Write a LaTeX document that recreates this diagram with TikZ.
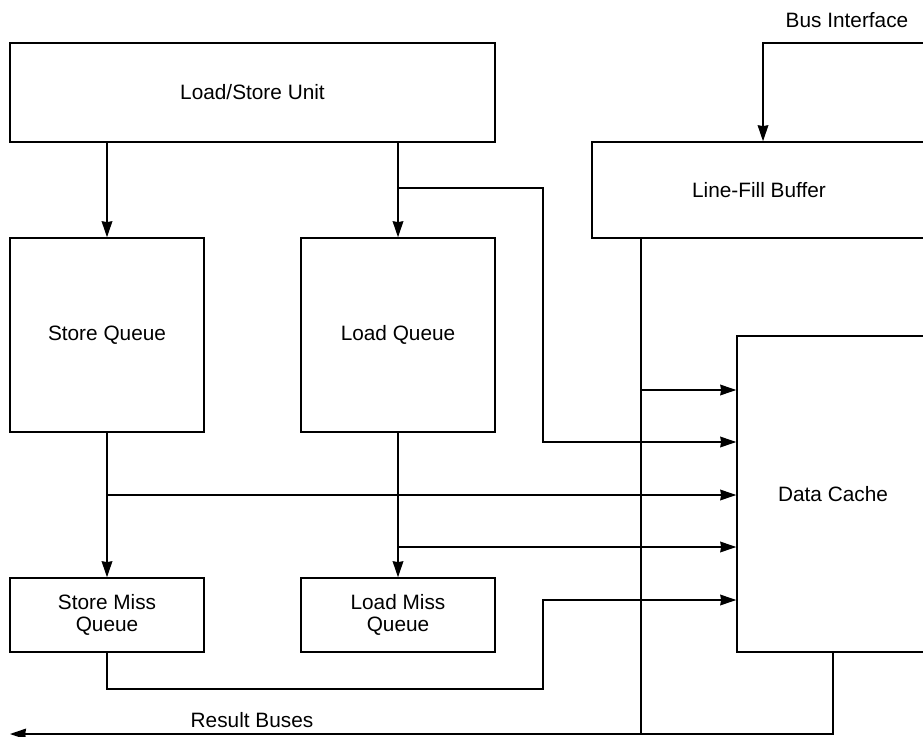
\documentclass[tikz,border=0pt]{standalone}
\usepackage{fontspec}
\setmainfont{Liberation Sans}
\usetikzlibrary{arrows.meta}
\begin{document}
\begin{tikzpicture}[x=0.75pt,y=-0.75pt,
  box/.style={draw,line width=1.1pt,inner sep=0pt,align=center,font=\fontsize{15.6pt}{16.5pt}\selectfont},
  conn/.style={line width=1.1pt},
  arr/.style={line width=1.1pt,-{Stealth[length=12pt,width=8pt,inset=0.6pt]}},
  lbl/.style={inner sep=0pt,font=\fontsize{15.6pt}{16.5pt}\selectfont}]
\useasboundingbox (0,0) rectangle (923,737);
\clip (0,0) rectangle (923,737);
% boxes
\node[box,minimum width=363.75pt,minimum height=74.25pt] (LSU) at (252.5,92.5) {Load/Store Unit};
\node[box,minimum width=250.5pt,minimum height=72pt] (LFB) at (759,190) {Line-Fill Buffer};
\node[box,minimum width=145.5pt,minimum height=145.5pt] (SQ) at (107,335) {Store Queue};
\node[box,minimum width=145.5pt,minimum height=145.5pt] (LQ) at (398,335) {Load Queue};
\node[box,minimum width=144pt,minimum height=237pt] (DC) at (833,494) {Data Cache};
\node[box,minimum width=145.5pt,minimum height=55.5pt] (SMQ) at (107,615) {Store Miss\\Queue};
\node[box,minimum width=145.5pt,minimum height=55.5pt] (LMQ) at (398,615) {Load Miss\\Queue};
% labels
\node[lbl] (busl) at (847,20) {Bus Interface};
\node[lbl] (resl) at (252,720) {Result Buses};
% helper coordinates
\coordinate (y1) at (0,390);
\coordinate (y2) at (0,442);
\coordinate (y3) at (0,495);
\coordinate (y4) at (0,547);
\coordinate (y5) at (0,600);
\coordinate (xa) at (543,0);
\coordinate (xb) at (641,0);
\coordinate (bus) at (925,43);
\coordinate (busx) at (763,43);
\coordinate (b1) at (398,188);
\coordinate (rbl) at (641,734);
\coordinate (rbend) at (10,734);
\coordinate (smqy) at (0,689);
% connectors
\draw[arr] (bus) -- (busx) -- (LFB.north -| busx);
\draw[arr] (SQ.north |- LSU.south) -- (SQ.north);
\draw[arr] (LQ.north |- LSU.south) -- (LQ.north);
\draw[arr] (b1) -- (xa |- b1) -- (xa |- y2) -- (DC.west |- y2);
\draw[conn] (LFB.south -| xb) -- (rbl);
\draw[arr] (xb |- y1) -- (DC.west |- y1);
\draw[arr] (SQ.south) -- (SMQ.north);
\draw[arr] (SQ.south |- y3) -- (DC.west |- y3);
\draw[arr] (LQ.south) -- (LMQ.north);
\draw[arr] (LQ.south |- y4) -- (DC.west |- y4);
\draw[arr] (SMQ.south) -- (SMQ.south |- smqy) -- (xa |- smqy) -- (xa |- y5) -- (DC.west |- y5);
\draw[arr] (DC.south) -- (DC.south |- rbend) -- (rbend);
\end{tikzpicture}
\end{document}
